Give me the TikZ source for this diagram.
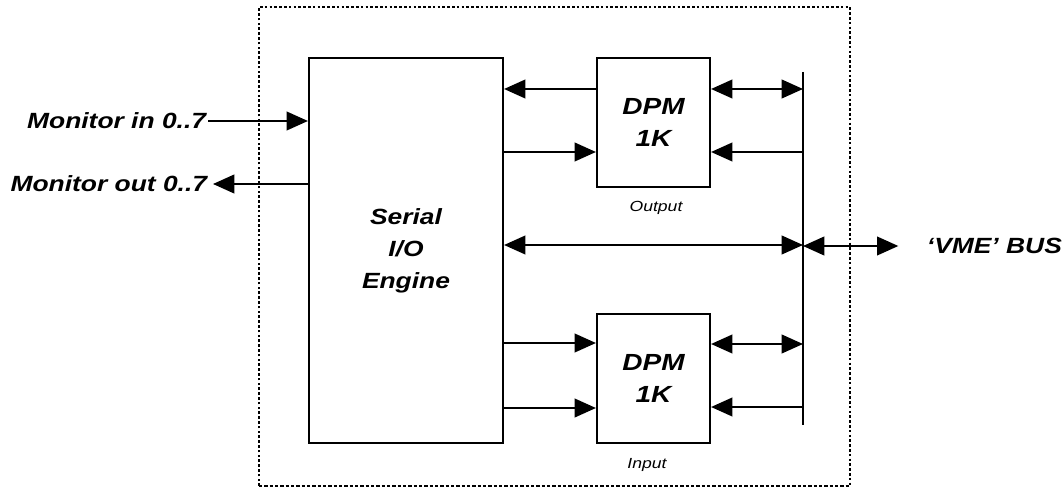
\documentclass[tikz,border=0pt]{standalone}
\usepackage{fontspec}
\setmainfont{Liberation Sans}
\usetikzlibrary{arrows.meta}

\begin{document}
\begin{tikzpicture}[x=0.75pt, y=-0.75pt,
        box/.style={draw, line width=1.6pt, inner sep=0pt},
        lbl/.style={font=\fontsize{16.5}{24}\selectfont\bfseries\itshape, xscale=1.2, align=center},
        note/.style={font=\fontsize{11}{13}\selectfont\itshape, xscale=1.2},
        sig/.style={line width=1.5pt, -{Triangle[length=16pt,width=14pt]}},
        bisig/.style={line width=1.5pt, {Triangle[length=16pt,width=14pt]}-{Triangle[length=16pt,width=14pt]}}]
    \useasboundingbox (0,0) rectangle (1063,488);

    % board outline
    \draw[line width=2pt, dash pattern=on 2pt off 1.6pt] (259,486) -- (259,7) -- (850,7) -- (850,486);
    \draw[line width=0.8pt, dash pattern=on 2.5pt off 1.5pt] (259,486) -- (850,486);

    % blocks
    \node[box, minimum width=145.5pt, minimum height=288.75pt] (eng) at (406,250.5) {};
    \node[lbl] (engtxt) at (eng) {Serial\\I/O\\Engine};
    \node[box, minimum width=84.75pt, minimum height=96.75pt] (dpmout) at (653.5,122.5) {};
    \node[lbl, font=\fontsize{17.5}{24}\selectfont\bfseries\itshape] (dpmouttxt) at (dpmout) {DPM\\1K};
    \node[note] (outtxt) at (656,208) {Output};
    \node[box, minimum width=84.75pt, minimum height=96.75pt] (dpmin) at (653.5,378.5) {};
    \node[lbl, font=\fontsize{17.5}{24}\selectfont\bfseries\itshape] (dpmintxt) at (dpmin) {DPM\\1K};
    \node[note] (intxt) at (647,465) {Input};

    % bus
    \coordinate (bustop) at (803,72);
    \coordinate (busbot) at (803,425);
    \draw[line width=2.2pt] (bustop) -- (busbot);

    % monitor lines
    \node[lbl, anchor=east, inner sep=1pt] (monin) at (208,121) {Monitor in 0..7};
    \node[lbl, anchor=east, inner sep=1pt] (monout) at (209,184) {Monitor out 0..7};
    \draw[sig] (monin.east) -- (eng.west |- monin.east);
    \draw[sig] (eng.west |- monout.east) -- ([xshift=3pt]monout.east);

    % output side
    \draw[sig] (dpmout.west |- 0,89) -- (eng.east |- 0,89);
    \draw[sig] (eng.east |- 0,152) -- (dpmout.west |- 0,152);
    \draw[bisig] (dpmout.east |- 0,89) -- (bustop |- 0,89);
    \draw[sig] (bustop |- 0,152) -- (dpmout.east |- 0,152);

    % engine to bus and off board
    \node[lbl, anchor=west, inner sep=1pt] (vme) at (925,246) {‘VME’ BUS};
    \draw[bisig] (eng.east |- 0,245) -- (bustop |- 0,245);
    \draw[bisig] (bustop |- vme.west) -- ([xshift=-20pt]vme.west);

    % input side
    \draw[sig] (eng.east |- 0,343) -- (dpmin.west |- 0,343);
    \draw[sig] (eng.east |- 0,408) -- (dpmin.west |- 0,408);
    \draw[bisig] (dpmin.east |- 0,344) -- (bustop |- 0,344);
    \draw[sig] (bustop |- 0,407) -- (dpmin.east |- 0,407);
\end{tikzpicture}
\end{document}
